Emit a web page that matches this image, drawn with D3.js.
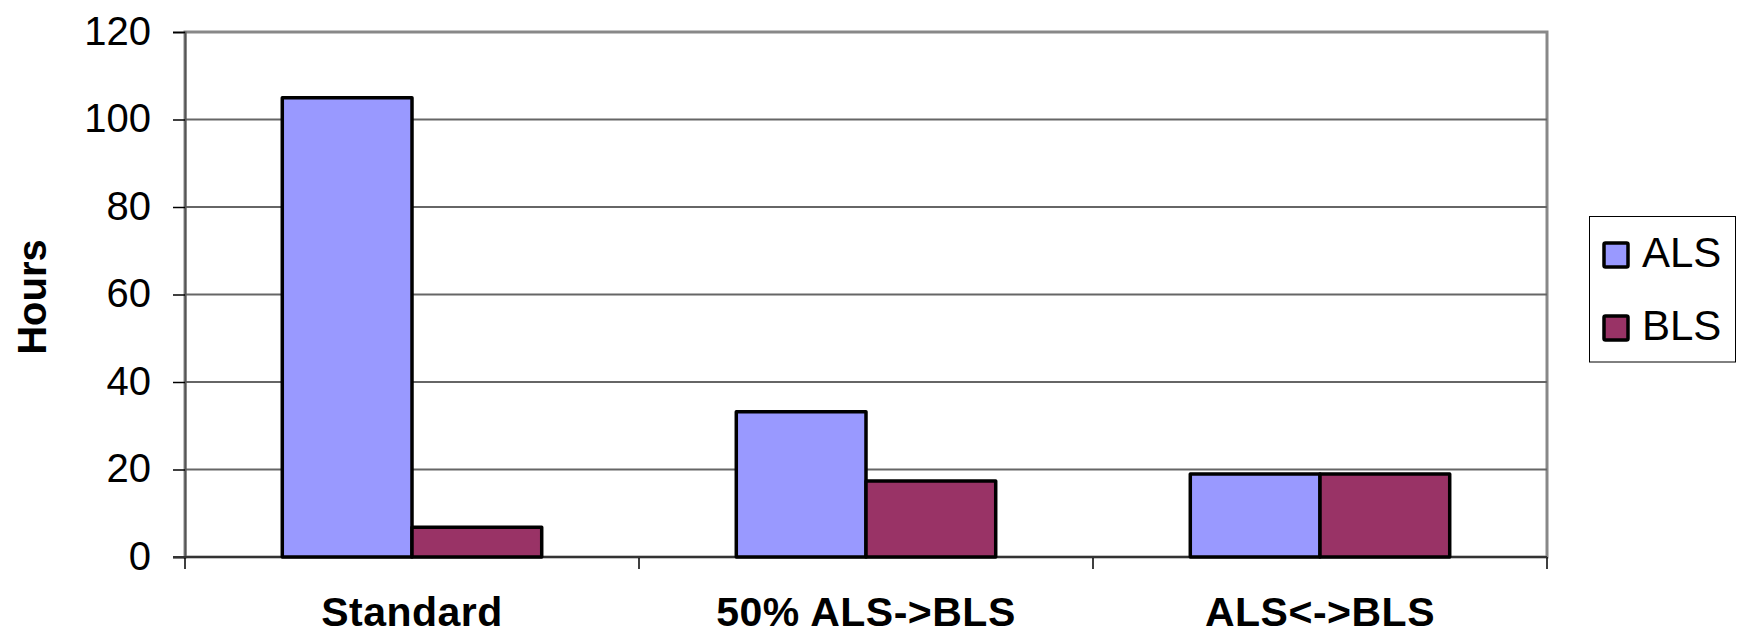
<!DOCTYPE html>
<html>
<head>
<meta charset="utf-8">
<script src="https://cdn.jsdelivr.net/npm/d3@7"></script>
<style>
  html, body { margin: 0; padding: 0; background: #fff; }
  svg { display: block; font-family: Arial, "Liberation Sans", sans-serif; }
</style>
</head>
<body>
<svg id="chart" width="1737" height="636"></svg>
<script>
const categories = ["Standard", "50% ALS->BLS", "ALS<->BLS"];
const seriesNames = ["ALS", "BLS"];
const alsValues = [105, 33.2, 19];
const blsValues = [6.8, 17.4, 19];
const yTicks = [0, 20, 40, 60, 80, 100, 120];
const colors = ["#9999FF", "#993366"];

(function () {
const svg = d3.select("#chart");
const pLeft = 185, pRight = 1547, pTop = 32, pBottom = 557;

const x0 = d3.scaleBand().domain(categories).range([pLeft, pRight])
  .paddingInner(1.5 / 3.5).paddingOuter(0.75 / 3.5);
const x1 = d3.scaleBand().domain(seriesNames).range([0, x0.bandwidth()]);
const y = d3.scaleLinear().domain([0, 120]).range([pBottom, pTop]);

// plot area border
svg.append("rect")
  .attr("x", pLeft).attr("y", pTop)
  .attr("width", pRight - pLeft).attr("height", pBottom - pTop)
  .attr("fill", "#fff").attr("stroke", "#888").attr("stroke-width", 3);

// gridlines
svg.append("g").selectAll("line")
  .data(yTicks.filter(d => d > 0 && d < 120))
  .join("line")
  .attr("x1", pLeft).attr("x2", pRight)
  .attr("y1", d => y(d)).attr("y2", d => y(d))
  .attr("stroke", "#666").attr("stroke-width", 1.8);

// y axis
const yAxis = d3.axisLeft(y).tickValues(yTicks).tickSize(12).tickPadding(22);
const gy = svg.append("g").attr("transform", `translate(${pLeft},0)`).call(yAxis);
gy.select(".domain").attr("stroke", "#555").attr("stroke-width", 2);
gy.selectAll(".tick line").attr("stroke", "#000").attr("stroke-width", 1.5);
gy.selectAll(".tick text")
  .attr("font-size", 40).attr("fill", "#000")
  .attr("font-family", "Arial, 'Liberation Sans', sans-serif")
  .attr("dy", "0.3em");

// x axis
const xTickPos = d3.range(categories.length + 1).map(i => pLeft + i * x0.step());
svg.append("g").selectAll("line").data(xTickPos).join("line")
  .attr("x1", d => d).attr("x2", d => d)
  .attr("y1", pBottom).attr("y2", pBottom + 12)
  .attr("stroke", "#000").attr("stroke-width", 1.5);
svg.append("line")
  .attr("x1", pLeft - 12).attr("x2", pRight)
  .attr("y1", pBottom).attr("y2", pBottom)
  .attr("stroke", "#333").attr("stroke-width", 2.2);

svg.append("g").selectAll("text").data(categories).join("text")
  .attr("x", d => x0(d) + x0.bandwidth() / 2)
  .attr("y", 626)
  .attr("text-anchor", "middle")
  .attr("font-size", 41).attr("font-weight", "bold")
  .attr("letter-spacing", 0.5)
  .text(d => d);

// bars
const rows = categories.map((c, i) => ({ cat: c, vals: [alsValues[i], blsValues[i]] }));
const groups = svg.append("g").selectAll("g").data(rows).join("g")
  .attr("transform", d => `translate(${x0(d.cat)},0)`);
groups.selectAll("rect")
  .data(d => d.vals.map((v, j) => ({ name: seriesNames[j], v, j })))
  .join("rect")
  .attr("x", d => x1(d.name))
  .attr("width", x1.bandwidth())
  .attr("y", d => y(d.v))
  .attr("height", d => y(0) - y(d.v))
  .attr("fill", d => colors[d.j])
  .attr("stroke", "#000").attr("stroke-width", 3.5)
  .attr("stroke-linejoin", "round");

// y axis title
svg.append("text")
  .attr("transform", "translate(46,297) rotate(-90)")
  .attr("text-anchor", "middle")
  .attr("font-size", 40).attr("font-weight", "bold")
  .text("Hours");

// legend
const lg = svg.append("g");
lg.append("rect")
  .attr("x", 1589.5).attr("y", 216.5).attr("width", 146).attr("height", 145.5)
  .attr("fill", "#fff").attr("stroke", "#000").attr("stroke-width", 1);
const items = lg.selectAll("g.item").data(seriesNames).join("g").attr("class", "item")
  .attr("transform", (d, i) => `translate(0,${i * 73})`);
items.append("rect")
  .attr("x", 1604).attr("y", 243).attr("width", 24).attr("height", 24)
  .attr("fill", (d, i) => colors[i]).attr("stroke", "#000").attr("stroke-width", 3.5)
  .attr("rx", 1.5);
items.append("text")
  .attr("x", 1642).attr("y", 267)
  .attr("font-size", 42)
  .text(d => d);
})();
</script>
</body>
</html>
